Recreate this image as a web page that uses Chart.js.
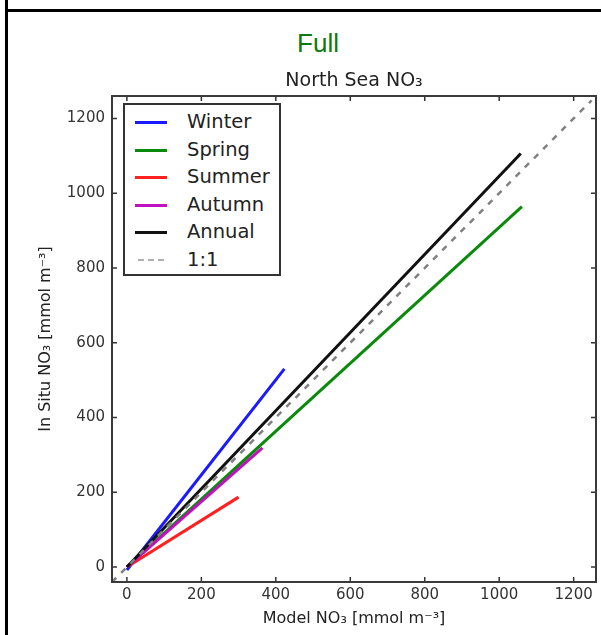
<!DOCTYPE html>
<html>
<head>
<meta charset="utf-8">
<script src="https://cdn.jsdelivr.net/npm/chart.js@4/dist/chart.umd.min.js"></script>
<style>
  html, body { margin:0; padding:0; background:#fff; }
  body { width:601px; height:635px; position:relative; overflow:hidden; font-family:"DejaVu Sans", sans-serif; }
  .frameV { position:absolute; left:5px; top:0; width:3px; height:635px; background:#000; }
  .frameH { position:absolute; left:5px; top:9px; width:596px; height:3px; background:#000; }
  #full { position:absolute; left:218px; top:28px; width:200px; text-align:center; font-family:"Liberation Sans", Arial, sans-serif; font-size:26px; color:#0d7a0d; }
  #wrap { position:absolute; left:0; top:60px; width:601px; height:575px; }
  #legend { position:absolute; left:123px; top:103px; width:158px; height:173px; box-sizing:border-box; border:2px solid #333; background:#fff; }
  .row { position:absolute; left:0; height:22px; width:156px; }
  .sample { position:absolute; left:10px; top:10px; width:32px; height:0; }
  .lbl { position:absolute; left:62px; top:0; line-height:22px; font-size:19.5px; color:#222; font-family:"DejaVu Sans", sans-serif; }
</style>
</head>
<body>
<div class="frameV"></div>
<div class="frameH"></div>
<div id="full">Full</div>
<div id="wrap"><canvas id="c" width="601" height="575"></canvas></div>
<div id="legend"></div>
<script>
// ---- data ----
const seriesNames = ['Winter', 'Spring', 'Summer', 'Autumn', 'Annual', '1:1'];
const seriesColors = ['#1a1aff', '#0a8a0a', '#ff2020', '#c010c0', '#111111', '#808080'];
const winterX = [0, 423];   const winterY = [-8, 530];
const springX = [0, 1061];  const springY = [0, 964];
const summerX = [0, 300];   const summerY = [0, 187];
const autumnX = [0, 364];   const autumnY = [0, 319];
const annualX = [0, 1058];  const annualY = [0, 1106];
const oneToOneX = [-40, 1248]; const oneToOneY = [-40, 1248];
const tickValues = [0, 200, 400, 600, 800, 1000, 1200];
const tickLabels = ['0', '200', '400', '600', '800', '1000', '1200'];
const axisMin = -40, axisMax = 1260;
const chartTitle = 'North Sea NO\u2083';
const xTitle = 'Model NO\u2083 [mmol m\u207B\u00B3]';
const yTitle = 'In Situ NO\u2083 [mmol m\u207B\u00B3]';

const xs = [winterX, springX, summerX, autumnX, annualX, oneToOneX];
const ys = [winterY, springY, summerY, autumnY, annualY, oneToOneY];

const datasets = seriesNames.map((name, i) => ({
  label: name,
  data: xs[i].map((x, j) => ({x: x, y: ys[i][j]})),
  showLine: true,
  borderColor: seriesColors[i],
  backgroundColor: seriesColors[i],
  borderWidth: name === '1:1' ? 2.5 : 3,
  borderDash: name === '1:1' ? [6, 7] : [],
  pointRadius: 0,
  order: seriesNames.length - i
}));

// legend (HTML, real text)
const leg = document.getElementById('legend');
seriesNames.forEach((name, i) => {
  const r = document.createElement('div');
  r.className = 'row';
  r.style.top = (17 + i * 27.6 - 11) + 'px';
  const s = document.createElement('div');
  s.className = 'sample';
  const dashed = name === '1:1';
  s.style.borderTop = '3px ' + (dashed ? 'dashed #b0b0b0' : 'solid ' + seriesColors[i]);
  if (dashed) { s.style.borderTopWidth = '2px'; s.style.width = '26px'; s.style.left = '13px'; }
  const t = document.createElement('div');
  t.className = 'lbl';
  t.textContent = name;
  r.appendChild(s); r.appendChild(t);
  leg.appendChild(r);
});

const frameTicks = {
  id: 'frameTicks',
  afterDatasetsDraw(chart) {
    const {ctx, chartArea: a, scales} = chart;
    ctx.save();
    ctx.strokeStyle = '#333';
    ctx.lineWidth = 1.5;
    const L = 5;
    tickValues.forEach(v => {
      const px = scales.x.getPixelForValue(v);
      const py = scales.y.getPixelForValue(v);
      ctx.beginPath();
      ctx.moveTo(px, a.bottom); ctx.lineTo(px, a.bottom - L);
      ctx.moveTo(px, a.top); ctx.lineTo(px, a.top + L);
      ctx.moveTo(a.left, py); ctx.lineTo(a.left + L, py);
      ctx.moveTo(a.right, py); ctx.lineTo(a.right - L, py);
      ctx.stroke();
    });
    ctx.lineWidth = 2;
    ctx.strokeStyle = '#3a3a3a';
    ctx.strokeRect(a.left, a.top, a.right - a.left, a.bottom - a.top);
    // title centred over the plot area
    ctx.fillStyle = '#222';
    ctx.font = '19px "DejaVu Sans", sans-serif';
    ctx.textAlign = 'center';
    ctx.textBaseline = 'middle';
    ctx.fillText(chartTitle, (a.left + a.right) / 2, a.top - 15);
    ctx.restore();
  }
};

Chart.defaults.font.family = '"DejaVu Sans", sans-serif';
new Chart(document.getElementById('c'), {
  type: 'scatter',
  data: { datasets },
  options: {
    responsive: false,
    animation: false,
    layout: { padding: { left: 0, right: 5, top: 36, bottom: 0 } },
    plugins: {
      legend: { display: false },
      tooltip: { enabled: false },
      title: { display: false }
    },
    scales: {
      x: {
        type: 'linear', min: axisMin, max: axisMax,
        grid: { display: false, drawTicks: false },
        border: { display: false },
        afterBuildTicks: s => { s.ticks = tickValues.map(v => ({value: v})); },
        afterFit: s => { s.height = 53; },
        ticks: { color: '#333', font: { size: 15 }, padding: 4, maxRotation: 0, autoSkip: false,
                 callback: (v) => tickLabels[tickValues.indexOf(v)] },
        title: { display: true, text: xTitle, color: '#222', font: { size: 16 }, padding: { top: 0, bottom: 7 } }
      },
      y: {
        type: 'linear', min: axisMin, max: axisMax,
        grid: { display: false, drawTicks: false },
        border: { display: false },
        afterBuildTicks: s => { s.ticks = tickValues.map(v => ({value: v})); },
        afterFit: s => { s.width = 112; },
        ticks: { color: '#333', font: { size: 15 }, padding: 7, autoSkip: false,
                 callback: (v) => tickLabels[tickValues.indexOf(v)] },
        title: { display: true, text: yTitle, color: '#222', font: { size: 16 }, padding: { top: 36, bottom: 0 } }
      }
    }
  },
  plugins: [frameTicks]
});
</script>
</body>
</html>
